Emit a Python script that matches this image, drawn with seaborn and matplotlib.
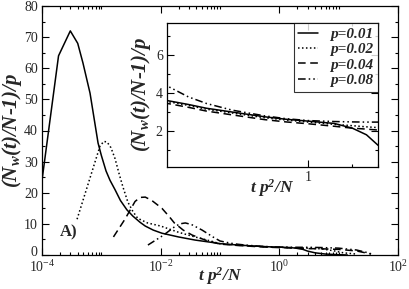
import numpy as np
import pandas as pd
import matplotlib
matplotlib.use("Agg")
import matplotlib.pyplot as plt
import matplotlib.ticker as mticker
import matplotlib.transforms as mtransforms
import seaborn as sns

# ---------------- data ----------------
p_labels = ["p=0.01", "p=0.02", "p=0.04", "p=0.08"]

x_p01 = [1e-4, 1.9e-4, 3e-4, 4e-4, 4.9e-4, 6.45e-4, 8.8e-4, 1.0e-3, 1.2e-3, 1.4e-3, 1.7e-3, 2.1e-3,
         2.7e-3, 3.4e-3, 4.5e-3, 5.5e-3, 7.5e-3, 1.05e-2, 2.0e-2, 3.8e-2, 7.6e-2,
         0.1, 0.15, 0.2, 0.3, 0.5, 0.7, 1.0, 1.5, 2.0, 2.5, 3.0, 4.0, 6.0, 10.0, 14.0]
y_p01 = [24, 64, 72, 68, 61.7, 52, 36, 32, 27, 24, 21, 17.5,
         14.5, 12.5, 10.5, 9.3, 8.0, 7.0, 5.8, 4.8, 4.0,
         3.65, 3.4, 3.2, 3.0, 2.75, 2.62, 2.52, 2.4, 2.15, 1.8, 1.25, 0.7, 0.3, 0.1, 0.0]

x_p02 = [3.9e-4, 9.5e-4, 1.1e-3, 1.25e-3, 1.45e-3, 1.7e-3, 2.0e-3, 2.3e-3, 2.8e-3, 3.4e-3, 4.1e-3,
         6.0e-3, 1.0e-2, 2.0e-2, 3.8e-2, 7.6e-2,
         0.1, 0.15, 0.2, 0.3, 0.5, 0.7, 1.0, 1.5, 2.0, 2.5, 3.0, 5.0, 8.0, 12.0, 20.0]
y_p02 = [11.5, 35, 36.5, 36.3, 34.5, 31, 26, 22, 17, 14, 11.8,
         10.3, 9.3, 7.3, 5.8, 4.3,
         3.6, 3.35, 3.15, 2.95, 2.7, 2.58, 2.47, 2.35, 2.28, 2.22, 2.18, 2.0, 1.4, 0.7, 0.3]

x_p04 = [1.6e-3, 2.5e-3, 3.7e-3, 4.5e-3, 5.5e-3, 7.0e-3, 1.05e-2, 1.4e-2, 1.7e-2, 2.4e-2, 3.4e-2, 6.0e-2,
         0.1, 0.15, 0.2, 0.3, 0.5, 0.7, 1.0, 1.5, 2.0, 2.5, 3.0, 5.0, 10.0, 20.0, 30.0, 35.0]
y_p04 = [5.8, 11.5, 17.2, 18.5, 18.6, 17.6, 15.0, 12.3, 10.3, 8.0, 6.4, 4.6,
         3.5, 3.25, 3.05, 2.85, 2.6, 2.48, 2.38, 2.25, 2.15, 2.1, 2.05, 2.0, 1.8, 1.3, 0.6, 0.3]

x_p08 = [6.1e-3, 1.1e-2, 1.7e-2, 2.1e-2, 2.6e-2, 3.3e-2, 5.0e-2, 7.6e-2,
         0.1, 0.15, 0.2, 0.3, 0.5, 0.7, 1.0, 1.5, 2.0, 2.5, 3.0, 5.0, 10.0, 20.0, 30.0, 38.0]
y_p08 = [3.2, 6.3, 9.0, 10.0, 10.3, 9.8, 8.0, 5.8,
         4.5, 3.8, 3.45, 3.1, 2.8, 2.65, 2.55, 2.5, 2.48, 2.47, 2.47, 2.4, 2.2, 1.6, 0.8, 0.2]

main_xticks = [1e-4, 1e-2, 1e0, 1e2]
main_xticklabels = [r"$\mathregular{10^{-4}}$", r"$\mathregular{10^{-2}}$",
                    r"$\mathregular{10^{0}}$", r"$\mathregular{10^{2}}$"]
main_yticks = [0, 10, 20, 30, 40, 50, 60, 70, 80]
inset_yticks = [2, 4, 6]
inset_xticks = [1]

# ---------------- build long table ----------------
frames = []
for lab, xs, ys in zip(p_labels, [x_p01, x_p02, x_p04, x_p08], [y_p01, y_p02, y_p04, y_p08]):
    frames.append(pd.DataFrame({"x": xs, "y": ys, "p": lab}))
df = pd.concat(frames, ignore_index=True)

dashes = {"p=0.01": "", "p=0.02": (1, 1.6), "p=0.04": (5, 3), "p=0.08": (5, 2, 1, 2, 1, 2)}
palette = {k: "black" for k in p_labels}

# ---------------- style ----------------
sns.set_style("ticks")
plt.rcParams["font.family"] = ["Liberation Serif", "DejaVu Serif"]
plt.rcParams["mathtext.fontset"] = "custom"
plt.rcParams["mathtext.rm"] = "Liberation Serif:bold:italic"
plt.rcParams["mathtext.it"] = "Liberation Serif:bold:italic"
plt.rcParams["mathtext.bf"] = "Liberation Serif:bold:italic"
plt.rcParams["axes.linewidth"] = 0.9

fig = plt.figure(figsize=(4.09, 2.89), dpi=100)
ax = fig.add_axes([42 / 409, 1 - 255 / 289, 356 / 409, 249 / 289])

sns.lineplot(data=df, x="x", y="y", hue="p", style="p", dashes=dashes, palette=palette,
             estimator=None, sort=False, linewidth=1.1, legend=False, ax=ax)
ax.set_xscale("log")
ax.set_xlim(1e-4, 1e2)
ax.set_ylim(0, 80)
ax.xaxis.set_major_locator(mticker.FixedLocator(main_xticks))
ax.xaxis.set_major_formatter(mticker.FixedFormatter(main_xticklabels))
minor_x = [k * 10.0 ** e for e in (-4, -2, 0) for k in range(2, 10)] + [1e-3, 1e-1, 1e1]
ax.xaxis.set_minor_locator(mticker.FixedLocator(minor_x))
ax.xaxis.set_minor_formatter(mticker.NullFormatter())
ax.yaxis.set_major_locator(mticker.FixedLocator(main_yticks))
ax.yaxis.set_minor_locator(mticker.MultipleLocator(5))
ax.tick_params(which="both", direction="in", top=True, right=True, labelsize=10, pad=3,
               width=0.8, color="black")
ax.tick_params(which="major", length=5)
ax.tick_params(which="minor", length=2.5)
for s in ax.spines.values():
    s.set_color("black")
ax.set_xlabel(r"t p$^2$/N", fontsize=12.5, fontweight="bold", style="italic")
ax.set_ylabel(r"(N$_w$(t)/N-1)/p", fontsize=15, fontweight="bold", style="italic")
ax.xaxis.set_label_coords(0.5, -0.04)
ax.yaxis.set_label_coords(-0.05, 0.5)
ax.text(0.05, 0.092, "A)", transform=ax.transAxes, fontsize=12, fontweight="bold",
        ha="left", va="center")

# lift the "0" y tick label slightly, as in the reference
fig.canvas.draw()
first_tick = ax.yaxis.get_major_ticks()[0]
first_tick.label1.set_transform(first_tick.label1.get_transform()
                                + mtransforms.ScaledTranslation(0, 3 / 72, fig.dpi_scale_trans))

# ---------------- inset ----------------
ins = fig.add_axes([167 / 409, 1 - 167 / 289, 211 / 409, 144 / 289])
sns.lineplot(data=df, x="x", y="y", hue="p", style="p", dashes=dashes, palette=palette,
             estimator=None, sort=False, linewidth=1.1, ax=ins)
ins.set_xscale("log")
ins.set_xlim(0.107, 3.0)
ins.set_ylim(0.1, 7.7)
ins.xaxis.set_major_locator(mticker.FixedLocator(inset_xticks))
ins.xaxis.set_major_formatter(mticker.FixedFormatter(["1"]))
ins.xaxis.set_minor_locator(mticker.FixedLocator([2, 3]))
ins.xaxis.set_minor_formatter(mticker.NullFormatter())
ins.yaxis.set_major_locator(mticker.FixedLocator(inset_yticks))
ins.yaxis.set_minor_locator(mticker.FixedLocator([1, 3, 5, 7]))
ins.tick_params(which="both", direction="in", top=True, right=True, labelsize=10, pad=3,
                width=0.8, color="black")
ins.tick_params(which="major", length=5)
ins.tick_params(which="minor", length=2.5)
for s in ins.spines.values():
    s.set_color("black")
ins.set_xlabel(r"t p$^2$/N", fontsize=12.5, fontweight="bold", style="italic")
ins.set_ylabel(r"(N$_w$(t)/N-1)/p", fontsize=15, fontweight="bold", style="italic")
ins.xaxis.set_label_coords(0.5, -0.07)
ins.yaxis.set_label_coords(-0.066, 0.5)
leg = ins.legend(loc="upper right", borderaxespad=0, frameon=True, fancybox=False,
                 handlelength=1.3, handletextpad=0.8, labelspacing=0.1, borderpad=0.3,
                 prop={"family": "Liberation Serif", "weight": "bold", "style": "italic", "size": 11})
leg.get_frame().set_edgecolor("black")
leg.get_frame().set_linewidth(0.8)
for h in leg.get_lines():
    h.set_linewidth(1.1)

fig.savefig("out.png", dpi=100)
